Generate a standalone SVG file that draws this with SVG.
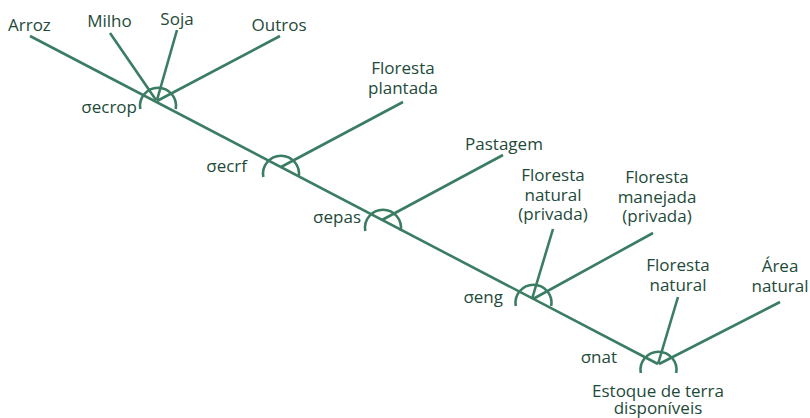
<svg xmlns="http://www.w3.org/2000/svg" width="810" height="418" viewBox="0 0 810 418">
<style>
.ln{stroke:#3b7d64;stroke-width:2.6;fill:none;stroke-linecap:butt}
.arc{stroke:#3b7d64;stroke-width:2.6;fill:none}
text{font-family:"Open Sans","Noto Sans","Liberation Sans",sans-serif;font-size:17px;font-weight:500;fill:#1e4a3a}
.m{text-anchor:middle}
.r{text-anchor:end}
</style>
<rect width="810" height="418" fill="#ffffff"/>
<g id="connectors">
<line class="ln" x1="30" y1="36" x2="658" y2="364"/>
<line class="ln" x1="110" y1="33" x2="156" y2="100"/>
<line class="ln" x1="177" y1="30" x2="157" y2="100"/>
<line class="ln" x1="280" y1="36" x2="157" y2="101"/>
<line class="ln" x1="281" y1="167" x2="403" y2="102"/>
<line class="ln" x1="382" y1="220" x2="503" y2="155"/>
<line class="ln" x1="532" y1="299" x2="553" y2="229"/>
<line class="ln" x1="533" y1="299" x2="653" y2="233"/>
<line class="ln" x1="658" y1="364" x2="678" y2="297"/>
<line class="ln" x1="659" y1="364" x2="780" y2="302"/>
</g>
<g id="n-ecrop">
<path class="arc" d="M140.3,109 A18,18 0 1 1 175.7,109"/>
<text class="r" x="137" y="113">σecrop</text>
</g>
<g id="n-ecrf">
<path class="arc" d="M263.3,177 A18,18 0 1 1 298.7,177"/>
<text class="r" x="247" y="172">σecrf</text>
</g>
<g id="n-epas">
<path class="arc" d="M365.3,231 A18,18 0 1 1 400.7,231"/>
<text class="r" x="361" y="223">σepas</text>
</g>
<g id="n-eng">
<path class="arc" d="M515.8,306 A18,18 0 1 1 551.2,306"/>
<text class="r" x="503" y="303">σeng</text>
</g>
<g id="n-nat">
<path class="arc" d="M640.8,373 A18,18 0 1 1 676.2,373"/>
<text class="r" x="617" y="363">σnat</text>
</g>
<g id="l-arroz"><text x="8" y="31">Arroz</text></g>
<g id="l-milho"><text class="m" x="109.5" y="27">Milho</text></g>
<g id="l-soja"><text class="m" x="177" y="25">Soja</text></g>
<g id="l-outros"><text class="m" x="279" y="31">Outros</text></g>
<g id="l-fplant"><text class="m" x="403" y="74">Floresta</text><text class="m" x="403" y="93.5">plantada</text></g>
<g id="l-past"><text class="m" x="504" y="150">Pastagem</text></g>
<g id="l-fnp"><text class="m" x="553" y="181">Floresta</text><text class="m" x="553" y="200.5">natural</text><text class="m" x="553" y="220">(privada)</text></g>
<g id="l-fmp"><text class="m" x="657" y="183">Floresta</text><text class="m" x="657" y="202.5">manejada</text><text class="m" x="657" y="222">(privada)</text></g>
<g id="l-fn"><text class="m" x="678" y="271">Floresta</text><text class="m" x="678" y="290.5">natural</text></g>
<g id="l-an"><text class="m" x="780" y="272">Área</text><text class="m" x="780" y="291.5">natural</text></g>
<g id="l-est"><text class="m" x="658" y="397">Estoque de terra</text><text class="m" x="658" y="414">disponíveis</text></g>
</svg>
